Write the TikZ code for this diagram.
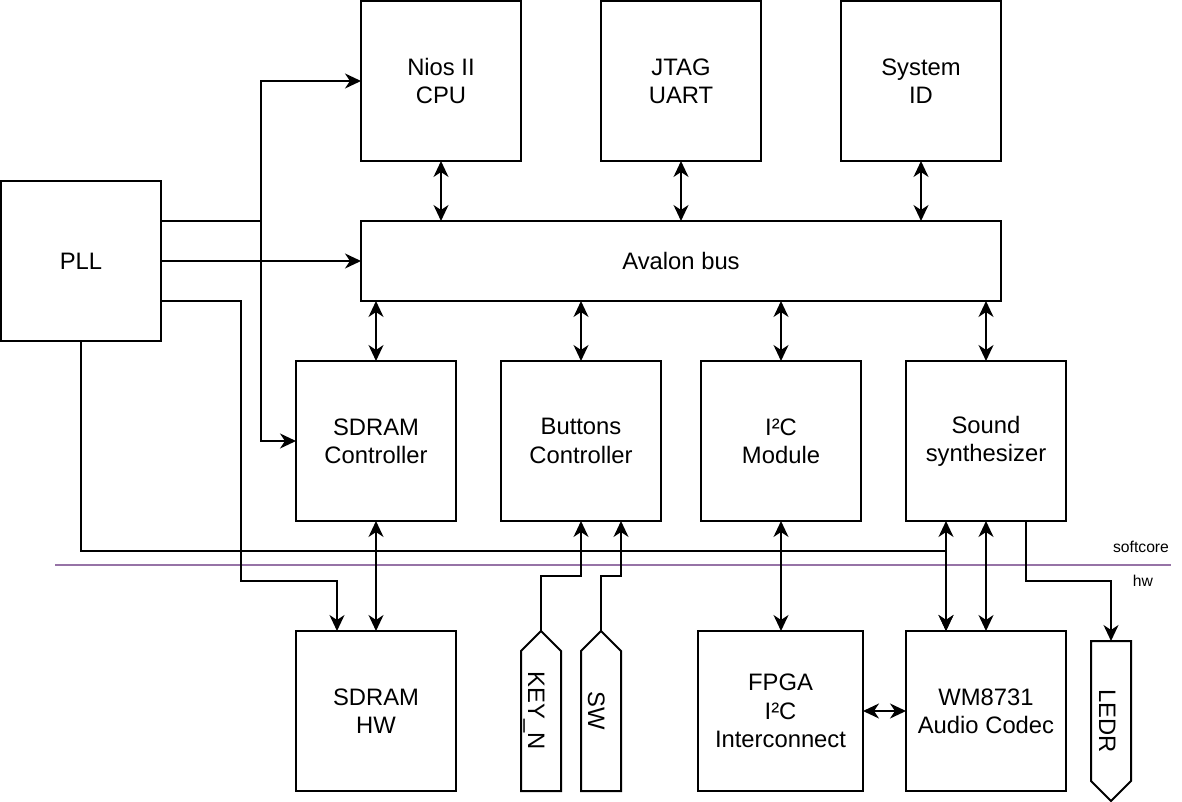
\documentclass[tikz,border=0pt]{standalone}
\usepackage{fontspec}
\setmainfont{Liberation Sans}
\usetikzlibrary{arrows.meta,calc}
\definecolor{divider}{HTML}{9673A6}
\tikzset{
  every node/.style={font=\fontsize{23.8pt}{28.3pt}\selectfont},
  box/.style={draw, line width=2pt, minimum width=160pt, minimum height=160pt, inner sep=0pt, outer sep=0pt, align=center},
  conn/.style={line width=2pt},
  arr/.style={conn, -{Stealth[length=16pt,width=15pt,inset=5pt]}},
  darr/.style={conn, {Stealth[length=16pt,width=15pt,inset=5pt]}-{Stealth[length=16pt,width=15pt,inset=5pt]}},
  pin/.style={draw, line width=2pt},
  pinlabel/.style={rotate=-90, anchor=base, inner sep=0pt},
  small/.style={font=\fontsize{15.7pt}{18pt}\selectfont, inner sep=0pt, anchor=base}
}
\begin{document}
\begin{tikzpicture}[x=1pt,y=-1pt]
\useasboundingbox (0,0) rectangle (1182,802);
% top row
\node[box] (cpu) at (441,81) {Nios II\\CPU};
\node[box] (jtag) at (681,81) {JTAG\\UART};
\node[box] (sysid) at (921,81) {System\\ID};
% bus and PLL
\node[box, minimum width=640pt, minimum height=80pt] (bus) at (681,261) {Avalon bus};
\node[box] (pll) at (81,261) {PLL};
% middle row
\node[box] (sdramc) at (376,441) {SDRAM\\Controller};
\node[box] (buttons) at (581,441) {Buttons\\Controller};
\node[box] (i2c) at (781,441) {I²C\\Module};
\node[box] (sound) at (986,441) {Sound\\synthesizer};
% bottom row
\node[box] (sdramhw) at (376,711) {SDRAM\\HW};
\node[box, minimum width=165pt] (fpga) at (780.5,711) {FPGA\\I²C\\Interconnect};
\node[box] (codec) at (986,711) {WM8731\\Audio Codec};
% pins
\draw[pin] (521,791) -- (521,651) -- (541,631) -- (561,651) -- (561,791) -- cycle;
\coordinate (keytip) at (541,631);
\node[pinlabel] (keyn) at (528,711) {KEY\_N};
\draw[pin] (581,791) -- (581,651) -- (601,631) -- (621,651) -- (621,791) -- cycle;
\coordinate (swtip) at (601,631);
\node[pinlabel] (sw) at (588,711) {SW};
\draw[pin] (1091,641) -- (1131,641) -- (1131,781) -- (1111,801) -- (1091,781) -- cycle;
\coordinate (ledrtop) at (1111,641);
\node[pinlabel] (ledr) at (1099,721) {LEDR};
% divider
\draw[divider, line width=1.6pt] (55,565) -- (1171,565);
\node[small] (softcore) at (1141,552) {softcore};
\node[small] (hw) at (1143,586) {hw};
% bus connections
\draw[darr] (cpu.south) -- (cpu.south |- bus.north);
\draw[darr] (jtag.south) -- (jtag.south |- bus.north);
\draw[darr] (sysid.south) -- (sysid.south |- bus.north);
\draw[darr] (sdramc.north |- bus.south) -- (sdramc.north);
\draw[darr] (buttons.north |- bus.south) -- (buttons.north);
\draw[darr] (i2c.north |- bus.south) -- (i2c.north);
\draw[darr] (sound.north |- bus.south) -- (sound.north);
% PLL clocks
\draw[arr] ($(pll.north east)+(0,40)$) -- ++(100,0) |- (cpu.west);
\draw[arr] ($(pll.north east)+(0,40)$) -- ++(100,0) |- (sdramc.west);
\draw[arr] (pll.east) -- (pll.east -| bus.west);
\draw[arr] ($(pll.south east)+(0,-40)$) -- ++(80,0) |- ($(sdramhw.north west)+(41,-50)$) -- ($(sdramhw.north west)+(41,0)$);
\draw[arr] (pll.south) -- ++(0,210) -| ($(codec.north west)+(40,0)$);
% lower connections
\draw[darr] (sdramc.south) -- (sdramhw.north);
\draw[arr] (keytip) -- ++(0,-55) -| (buttons.south);
\draw[arr] (swtip) -- ++(0,-55) -| ($(buttons.south east)+(-40,0)$);
\draw[darr] (i2c.south) -- (i2c.south |- fpga.north);
\draw[darr] (fpga.east) -- (codec.west);
\draw[darr] ($(sound.south west)+(40,0)$) -- ($(codec.north west)+(40,0)$);
\draw[darr] (sound.south) -- (codec.north);
\draw[arr] ($(sound.south east)+(-40,0)$) -- ++(0,60) -| (ledrtop);
\end{tikzpicture}
\end{document}
